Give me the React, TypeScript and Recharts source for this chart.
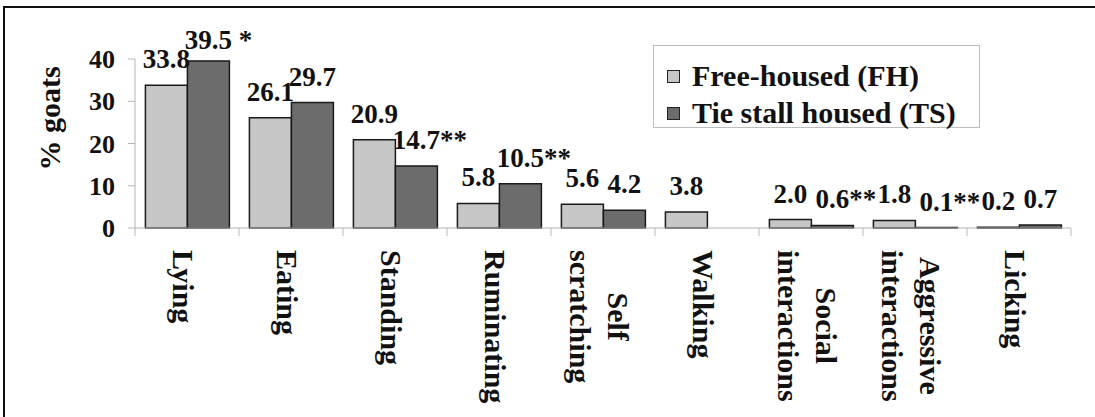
import React from "react";
import { BarChart, Bar, XAxis, YAxis, Legend, LabelList } from "recharts";

// values (% of goats)
const categories = [
  "Lying",
  "Eating",
  "Standing",
  "Ruminating",
  "Self scratching",
  "Walking",
  "Social interactions",
  "Aggressive interactions",
  "Licking",
];
const freeHoused = [33.8, 26.1, 20.9, 5.8, 5.6, 3.8, 2.0, 1.8, 0.2];
const tieStall = [39.5, 29.7, 14.7, 10.5, 4.2, 0, 0.6, 0.1, 0.7];
// significance marks shown after the TS values
const tieStallSig = [" *", "", "**", "**", "", "", "**", "**", ""];
const yTicks = [0, 10, 20, 30, 40];

const data = categories.map((name, i) => ({
  name,
  fh: freeHoused[i],
  ts: tieStall[i],
  fhLabel: freeHoused[i] ? freeHoused[i].toFixed(1) : "",
  tsLabel: tieStall[i] ? tieStall[i].toFixed(1) + tieStallSig[i] : "",
}));

const W = 1095;
const H = 417;
const Y_AXIS_W = 135;
const RIGHT = 24;
const TOP = 59;
const X_AXIS_H = 189;
const AXIS_Y = H - X_AXIS_H;
const BAND = (W - Y_AXIS_W - RIGHT) / categories.length;

const FONT = '"Liberation Serif", "Times New Roman", serif';
const VALUE_SIZE = 27;
const TICK_SIZE = 26;
const CAT_SIZE = 30;
const LEGEND_SIZE = 30;
const LINE_H = 38;
const AXIS_COLOR = "#b5b5b5";
const FH_COLOR = "#c6c6c6";
const TS_COLOR = "#6c6c6c";

let ctx: CanvasRenderingContext2D | null = null;
function textWidth(s: string, size: number) {
  if (!ctx && typeof document !== "undefined") {
    ctx = document.createElement("canvas").getContext("2d");
  }
  if (!ctx) return s.length * size * 0.5;
  ctx.font = `bold ${size}px "Liberation Serif"`;
  return ctx.measureText(s).width;
}

const CategoryTick = (props: any) => {
  const { x, payload, index } = props;
  const lines = String(payload.value).split(" ");
  const multi = lines.length > 1;
  const maxW = Math.max(...lines.map((l) => textWidth(l, CAT_SIZE)));
  return (
    <g>
      <line x1={x - BAND / 2} x2={x - BAND / 2} y1={AXIS_Y} y2={AXIS_Y + 8} stroke={AXIS_COLOR} />
      {index === categories.length - 1 && (
        <line x1={x + BAND / 2} x2={x + BAND / 2} y1={AXIS_Y} y2={AXIS_Y + 8} stroke={AXIS_COLOR} />
      )}
      <g transform={`translate(${x - 4},${AXIS_Y + 22}) rotate(90)`}>
        {lines.map((l, i) => (
          <text
            key={i}
            x={multi ? maxW / 2 : 0}
            y={(i - (lines.length - 1) / 2) * LINE_H}
            textAnchor={multi ? "middle" : "start"}
            dominantBaseline="central"
            fontFamily={FONT}
            fontWeight="bold"
            fontSize={CAT_SIZE}
            fill="#111"
          >
            {l}
          </text>
        ))}
      </g>
    </g>
  );
};

const ValueLabel = (props: any) => {
  const { x, y, width, value } = props;
  const text = String(value ?? "");
  if (!text) return null;
  const num = (text.match(/^[\d.]+/) || [text])[0];
  const cx = Number(x) + Number(width) / 2;
  const baseline = Math.max(Number(y) - 17, TOP - 10);
  return (
    <text
      x={cx - textWidth(num, VALUE_SIZE) / 2}
      y={baseline}
      textAnchor="start"
      fontFamily={FONT}
      fontWeight="bold"
      fontSize={VALUE_SIZE}
      fill="#111"
      style={{ whiteSpace: "pre" }}
    >
      {text}
    </text>
  );
};

const LegendBox = () => (
  <div
    style={{
      position: "absolute",
      left: 653,
      top: 45,
      width: 327,
      height: 83,
      border: "1px solid #bdbdbd",
      fontFamily: FONT,
      fontWeight: "bold",
      fontSize: LEGEND_SIZE,
      color: "#111",
      boxSizing: "border-box",
    }}
  >
    {[
      { label: "Free-housed (FH)", color: FH_COLOR },
      { label: "Tie stall housed (TS)", color: TS_COLOR },
    ].map((item, i) => (
      <div
        key={item.label}
        style={{
          position: "absolute",
          left: 13,
          top: 12 + i * 37,
          height: 36,
          display: "flex",
          alignItems: "center",
          whiteSpace: "nowrap",
        }}
      >
        <span
          style={{
            display: "inline-block",
            width: 11,
            height: 11,
            background: item.color,
            border: "1.5px solid #222",
            marginRight: 12,
          }}
        />
        {item.label}
      </div>
    ))}
  </div>
);

export default function App() {
  return (
    <div style={{ position: "absolute", left: 0, top: 0, width: W, height: H, background: "#fff" }}>
      <div
        style={{
          position: "absolute",
          left: 3,
          top: 6,
          width: W,
          height: H,
          borderTop: "2px solid #111",
          borderLeft: "2px solid #111",
        }}
      />
      <BarChart
        width={W}
        height={H}
        data={data}
        margin={{ top: TOP, right: RIGHT, left: 0, bottom: 0 }}
        barCategoryGap="10%"
        barGap={0}
      >
        <XAxis
          dataKey="name"
          interval={0}
          height={X_AXIS_H}
          tickLine={false}
          axisLine={{ stroke: AXIS_COLOR }}
          tick={<CategoryTick />}
        />
        <YAxis
          width={Y_AXIS_W}
          domain={[0, 40]}
          ticks={yTicks}
          interval={0}
          tickSize={7}
          tickMargin={13}
          axisLine={{ stroke: AXIS_COLOR }}
          tickLine={{ stroke: AXIS_COLOR }}
          tick={{ fontFamily: FONT, fontWeight: "bold", fontSize: TICK_SIZE, fill: "#111" }}
          label={(p: any) => {
            const vb = p?.viewBox ?? { x: 0, y: TOP, height: AXIS_Y - TOP };
            const lx = vb.x + 49;
            const ly = vb.y + vb.height / 2 - 25;
            return (
              <text
                x={lx}
                y={ly}
                transform={`rotate(-90 ${lx} ${ly})`}
                textAnchor="middle"
                dominantBaseline="central"
                fontFamily={FONT}
                fontWeight="bold"
                fontSize={CAT_SIZE}
                fill="#111"
              >
                % goats
              </text>
            );
          }}
        />
        <Legend content={() => <LegendBox />} wrapperStyle={{ position: "absolute", left: 0, top: 0, width: 0, height: 0 }} />
        <Bar dataKey="fh" name="Free-housed (FH)" fill={FH_COLOR} stroke="#1a1a1a" strokeWidth={1.5} isAnimationActive={false}>
          <LabelList dataKey="fhLabel" content={<ValueLabel />} />
        </Bar>
        <Bar dataKey="ts" name="Tie stall housed (TS)" fill={TS_COLOR} stroke="#1a1a1a" strokeWidth={1.5} isAnimationActive={false}>
          <LabelList dataKey="tsLabel" content={<ValueLabel />} />
        </Bar>
      </BarChart>
    </div>
  );
}
